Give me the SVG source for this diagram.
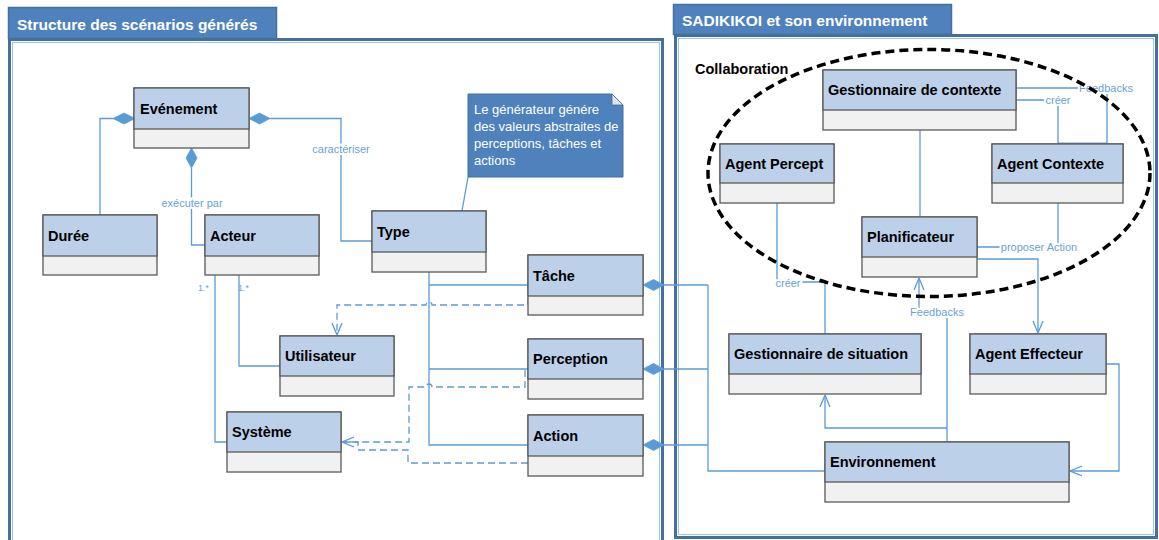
<svg xmlns="http://www.w3.org/2000/svg" width="1159" height="540" viewBox="0 0 1159 540">
<style>
.frame{fill:#fff;stroke:#41719C;stroke-width:3}
.inner{fill:none;stroke:#9DC3E6;stroke-width:1}
.tab{fill:#4F81BD;stroke:#41719C;stroke-width:1.5}
.tabt{font-family:"Liberation Sans",Arial,sans-serif;font-weight:bold;font-size:15.5px;fill:#fff}
.hd{fill:#BDD0E9;stroke:#595959;stroke-width:1.3}
.bd{fill:#F1F1F1;stroke:#595959;stroke-width:1.3}
.nt{font-family:"Liberation Sans",Arial,sans-serif;font-weight:bold;font-size:14.5px;fill:#000}
.c{fill:none;stroke:#5B9BD5;stroke-width:1.3}
.d{fill:none;stroke:#5B9BD5;stroke-width:1.3;stroke-dasharray:7 4}
.dia{fill:#5B9BD5;stroke:#5B9BD5;stroke-width:0.8}
.lb{font-family:"Liberation Sans",Arial,sans-serif;font-size:11px;fill:#6A9FD8;stroke:#fff;stroke-width:4;paint-order:stroke;text-anchor:middle}
.sm{font-family:"Liberation Sans",Arial,sans-serif;font-size:9px;fill:#6A9FD8}
.note{font-family:"Liberation Sans",Arial,sans-serif;font-size:13px;fill:#fff}
</style>
<defs>
<marker id="arr" viewBox="0 0 12 12" refX="12" refY="6" markerWidth="12" markerHeight="12" markerUnits="userSpaceOnUse" orient="auto">
<path d="M0,1 L12,6 L0,11" fill="none" stroke="#5B9BD5" stroke-width="1.3" stroke-dasharray="none"/>
</marker>
</defs>

<!-- frames -->
<g id="frame-left">
<rect class="frame" x="9.5" y="39.5" width="653" height="520"/>
<rect class="inner" x="12.5" y="42.5" width="647" height="520"/>
<rect class="tab" x="8.5" y="7.5" width="268" height="31"/>
<text class="tabt" x="17" y="30">Structure des scénarios générés</text>
</g>
<g id="frame-right">
<rect class="frame" x="675.5" y="35.5" width="481" height="502"/>
<rect class="inner" x="678.5" y="38.5" width="475" height="496"/>
<rect class="tab" x="673.5" y="4.5" width="278" height="30"/>
<text class="tabt" x="682" y="26">SADIKIKOI et son environnement</text>
</g>

<!-- connectors -->
<g id="connectors">
<!-- Evenement - Duree -->
<path class="c" d="M113,118.5 H100 V215"/>
<polygon class="dia" points="113,118.5 124,113 135,118.5 124,124"/>
<!-- Evenement - Type -->
<path class="c" d="M270,118.5 H341 V241 H372"/>
<polygon class="dia" points="249,118.5 259.5,113 270,118.5 259.5,124"/>
<text class="lb" x="341" y="153">caractériser</text>
<!-- Evenement - Acteur -->
<path class="c" d="M191.5,168 V245 H205"/>
<polygon class="dia" points="191.5,148 197,158 191.5,168 186,158"/>
<text class="lb" x="192" y="207">exécuter par</text>
<!-- Acteur - Systeme / Utilisateur -->
<path class="c" d="M215,275 V442 H227"/>
<path class="c" d="M239,275 V366 H280"/>
<text class="sm" x="198" y="291">1.*</text>
<text class="sm" x="238" y="291">1.*</text>
<!-- Type - Tache/Perception/Action -->
<path class="c" d="M429,272 V445 H528 M429,285 H528 M429,369 H528"/>
<!-- Tache - Utilisateur (dashed) -->
<path class="d" d="M528,298 V305 H432 A3,3 0 0 0 426,305 H337 V335" marker-end="url(#arr)"/>
<!-- Perception - Systeme (dashed) -->
<path class="d" d="M525,370 V387 H432 A3,3 0 0 0 426,387 H409 V442 H342" marker-end="url(#arr)"/>
<!-- Action - Systeme (dashed) -->
<path class="d" d="M528,463 H408 V450 H358 V442 H342"/>
<!-- note link -->
<path class="c" d="M468,177 L462,211"/>
<!-- Tache/Perception/Action - Environnement -->
<path class="c" d="M664,285 H708 M664,369 H708 M664,445 H708 M708,285 V471 H825"/>
<polygon class="dia" points="643,285 653.5,279.5 664,285 653.5,290.5"/>
<polygon class="dia" points="643,369 653.5,363.5 664,369 653.5,374.5"/>
<polygon class="dia" points="643,445 653.5,439.5 664,445 653.5,450.5"/>
<!-- GdC - Planificateur -->
<path class="c" d="M920,130 V217"/>
<!-- GdC - Agent Contexte -->
<path class="c" d="M1016,88 H1107 V144"/>
<path class="c" d="M1016,100 H1058 V144"/>
<path class="c" d="M1058,143 H1107" stroke-opacity="0.6"/>
<text class="lb" x="1058" y="104">créer</text>
<text class="lb" x="1106" y="92">Feedbacks</text>
<!-- Agent Contexte - Planificateur -->
<path class="c" d="M1058,203 V247 H977"/>
<text class="lb" x="1039" y="251">proposer Action</text>
<!-- Planificateur - Agent Effecteur -->
<path class="c" d="M977,259 H1038 V333" marker-end="url(#arr)"/>
<!-- Agent Percept - GdS -->
<path class="c" d="M777,203 V282 H825 V334"/>
<text class="lb" x="788" y="287">créer</text>
<!-- Environnement - Planificateur -->
<path class="c" d="M947,442 V312 H919 V278" marker-end="url(#arr)"/>
<text class="lb" x="937" y="316">Feedbacks</text>
<!-- Environnement - GdS -->
<path class="c" d="M947,428 H825 V395" marker-end="url(#arr)"/>
<!-- Agent Effecteur - Environnement -->
<path class="c" d="M1106,364 H1119 V471 H1070" marker-end="url(#arr)"/>
</g>

<!-- note -->
<g id="note">
<polygon points="468,94 612,94 623,105 623,177 468,177" fill="#4F81BD" stroke="#41719C" stroke-width="1"/>
<polygon points="612,94 623,105 612,105" fill="#DCE6F2" stroke="#41719C" stroke-width="0.8"/>
<text class="note" x="474" y="114">Le générateur génére</text>
<text class="note" x="474" y="131">des valeurs abstraites de</text>
<text class="note" x="474" y="148">perceptions, tâches et</text>
<text class="note" x="474" y="165">actions</text>
</g>

<!-- nodes -->
<g id="evenement"><rect class="bd" x="134" y="88" width="115" height="60"/><rect class="hd" x="134" y="88" width="115" height="41"/><text class="nt" x="140" y="114">Evénement</text></g>
<g id="duree"><rect class="bd" x="43" y="215" width="114" height="60"/><rect class="hd" x="43" y="215" width="114" height="41"/><text class="nt" x="48" y="241">Durée</text></g>
<g id="acteur"><rect class="bd" x="205" y="215" width="114" height="60"/><rect class="hd" x="205" y="215" width="114" height="41"/><text class="nt" x="210" y="241">Acteur</text></g>
<g id="type"><rect class="bd" x="372" y="211" width="114" height="61"/><rect class="hd" x="372" y="211" width="114" height="41"/><text class="nt" x="377" y="237">Type</text></g>
<g id="tache"><rect class="bd" x="528" y="255" width="115" height="60"/><rect class="hd" x="528" y="255" width="115" height="41"/><text class="nt" x="533" y="281">Tâche</text></g>
<g id="perception"><rect class="bd" x="528" y="339" width="115" height="60"/><rect class="hd" x="528" y="339" width="115" height="40"/><text class="nt" x="533" y="364">Perception</text></g>
<g id="action"><rect class="bd" x="528" y="415" width="115" height="61"/><rect class="hd" x="528" y="415" width="115" height="41"/><text class="nt" x="533" y="441">Action</text></g>
<g id="utilisateur"><rect class="bd" x="280" y="336" width="114" height="60"/><rect class="hd" x="280" y="336" width="114" height="40"/><text class="nt" x="285" y="361">Utilisateur</text></g>
<g id="systeme"><rect class="bd" x="227" y="412" width="114" height="60"/><rect class="hd" x="227" y="412" width="114" height="40"/><text class="nt" x="232" y="437">Système</text></g>
<g id="gestionnaire-contexte"><rect class="bd" x="823" y="70" width="193" height="60"/><rect class="hd" x="823" y="70" width="193" height="40"/><text class="nt" x="828" y="95">Gestionnaire de contexte</text></g>
<g id="agent-percept"><rect class="bd" x="720" y="144" width="114" height="59"/><rect class="hd" x="720" y="144" width="114" height="39"/><text class="nt" x="725" y="169">Agent Percept</text></g>
<g id="agent-contexte"><rect class="bd" x="992" y="144" width="131" height="59"/><rect class="hd" x="992" y="144" width="131" height="39"/><text class="nt" x="997" y="169">Agent Contexte</text></g>
<g id="planificateur"><rect class="bd" x="862" y="217" width="115" height="60"/><rect class="hd" x="862" y="217" width="115" height="40"/><text class="nt" x="867" y="242">Planificateur</text></g>
<g id="gestionnaire-situation"><rect class="bd" x="729" y="334" width="192" height="60"/><rect class="hd" x="729" y="334" width="192" height="40"/><text class="nt" x="734" y="359">Gestionnaire de situation</text></g>
<g id="agent-effecteur"><rect class="bd" x="970" y="334" width="136" height="60"/><rect class="hd" x="970" y="334" width="136" height="40"/><text class="nt" x="975" y="359">Agent Effecteur</text></g>
<g id="environnement"><rect class="bd" x="825" y="442" width="244" height="60"/><rect class="hd" x="825" y="442" width="244" height="40"/><text class="nt" x="830" y="467">Environnement</text></g>

<!-- collaboration -->
<g id="collaboration">
<ellipse cx="929" cy="173" rx="221" ry="123.5" fill="none" stroke="#000" stroke-width="3.5" stroke-dasharray="9 5"/>
<text class="nt" x="695" y="74">Collaboration</text>
</g>
</svg>
